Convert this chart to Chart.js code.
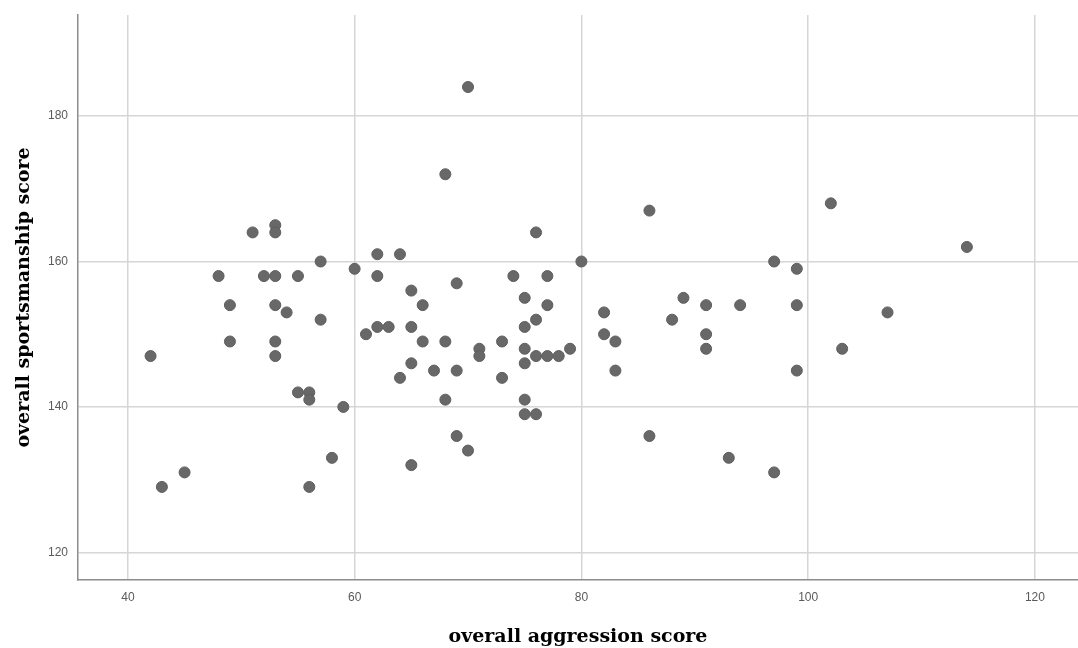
<!DOCTYPE html>
<html>
<head>
<meta charset="utf-8">
<script src="https://cdn.jsdelivr.net/npm/chart.js@4.4.1/dist/chart.umd.min.js"></script>
<style>
  html, body { margin: 0; padding: 0; background: #ffffff; }
  #wrap { width: 1078px; height: 648px; }
</style>
</head>
<body>
<div id="wrap"><canvas id="c" width="1078" height="648"></canvas></div>
<script>
// overall aggression score (x) and overall sportsmanship score (y)
const aggression = [
  42, 43, 45, 48, 49, 49, 51, 52, 53, 53, 53, 53, 53, 53, 54, 55, 55, 56, 56, 56,
  57, 57, 58, 59, 60, 61, 62, 62, 62, 63, 64, 64, 65, 65, 65, 65, 66, 66, 67, 68,
  68, 68, 69, 69, 69, 70, 70, 71, 71, 73, 73, 74, 75, 75, 75, 75, 75, 75, 76, 76,
  76, 76, 77, 77, 77, 78, 79, 80, 82, 82, 83, 83, 86, 86, 88, 89, 91, 91, 91, 93,
  94, 97, 97, 99, 99, 99, 102, 103, 107, 114
];
const sportsmanship = [
  147, 129, 131, 158, 154, 149, 164, 158, 165, 164, 158, 154, 149, 147, 153, 158, 142, 142, 141, 129,
  160, 152, 133, 140, 159, 150, 161, 158, 151, 151, 161, 144, 156, 151, 146, 132, 154, 149, 145, 172,
  149, 141, 157, 145, 136, 184, 134, 148, 147, 149, 144, 158, 155, 151, 148, 146, 141, 139, 164, 152,
  147, 139, 158, 154, 147, 147, 148, 160, 153, 150, 149, 145, 167, 136, 152, 155, 154, 150, 148, 133,
  154, 160, 131, 159, 154, 145, 168, 148, 153, 162
];
const xTicks = [40, 60, 80, 100, 120];
const yTicks = [120, 140, 160, 180];
const xTitle = 'overall aggression score';
const yTitle = 'overall sportsmanship score';

const points = aggression.map((x, i) => ({ x: x, y: sportsmanship[i] }));

new Chart(document.getElementById('c'), {
  type: 'scatter',
  data: {
    datasets: [{
      data: points,
      pointRadius: 5.5,
      pointBackgroundColor: '#686868',
      pointBorderColor: '#5e5e5e',
      pointBorderWidth: 1
    }]
  },
  options: {
    responsive: false,
    animation: false,
    events: [],
    layout: { autoPadding: false, padding: { left: 0, top: 15, right: 0, bottom: 0 } },
    plugins: { legend: { display: false }, tooltip: { enabled: false } },
    scales: {
      x: {
        type: 'linear',
        min: 35.6,
        max: 123.8,
        afterBuildTicks: s => { s.ticks = xTicks.map(v => ({ value: v })); },
        afterFit: s => { s.height = 68; s.paddingLeft = 0; s.paddingRight = 0; },
        grid: { color: '#d6d6d6', lineWidth: 1.5, drawTicks: false },
        border: { color: '#8c8c8c', width: 1.5 },
        ticks: {
          padding: 10,
          color: '#5a5a5a',
          font: { family: 'Liberation Sans', size: 12 },
          maxRotation: 0
        },
        title: {
          display: true,
          text: xTitle,
          color: '#000000',
          padding: { top: 0, bottom: 0 },
          font: { family: 'DejaVu Serif', size: 19, weight: 'bold', lineHeight: 1.2 }
        }
      },
      y: {
        type: 'linear',
        min: 116.2,
        max: 193.9,
        afterBuildTicks: s => { s.ticks = yTicks.map(v => ({ value: v })); },
        afterFit: s => { s.width = 78; s.paddingTop = 0; s.paddingBottom = 0; },
        grid: { color: '#d6d6d6', lineWidth: 1.5, drawTicks: false },
        border: { color: '#8c8c8c', width: 1.5 },
        ticks: {
          padding: 10,
          color: '#5a5a5a',
          font: { family: 'Liberation Sans', size: 12 }
        },
        title: {
          display: true,
          text: yTitle,
          color: '#000000',
          padding: { top: 13, bottom: 0 },
          font: { family: 'DejaVu Serif', size: 19, weight: 'bold', lineHeight: 1.2 }
        }
      }
    }
  }
});
</script>
</body>
</html>
